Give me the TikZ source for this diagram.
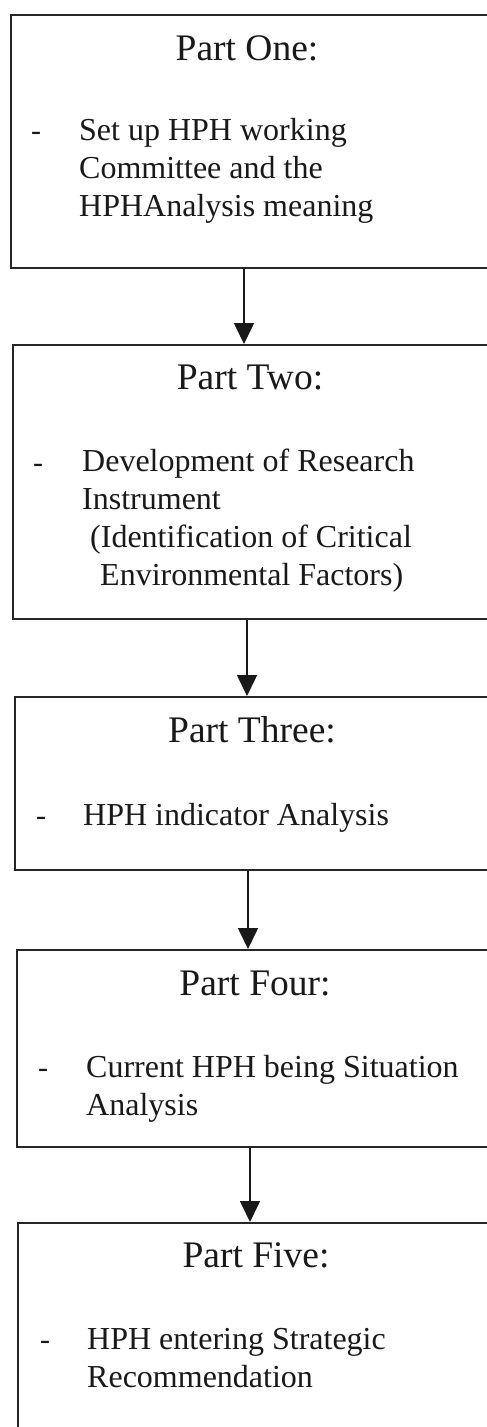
\documentclass[tikz,border=0pt]{standalone}
\usepackage{fontspec}
\setmainfont{Liberation Serif}
\usetikzlibrary{arrows.meta}
\begin{document}
\begin{tikzpicture}[x=1pt,y=-1pt,
  stagebox/.style={draw=black!85,line width=1.8pt,rectangle,inner sep=0pt,anchor=north west,minimum width=510pt},
  title/.style={anchor=base,inner sep=0pt,text=black!90,font=\fontsize{37.5}{45}\selectfont},
  body/.style={anchor=base west,inner sep=0pt,align=left,text=black!90,font=\fontsize{32}{37.7}\selectfont},
  bullet/.style={anchor=base west,inner sep=0pt,text=black!90,font=\fontsize{30}{36}\selectfont},
  arr/.style={line width=1.6pt,draw=black!90,-{Triangle[width=20pt,length=21pt]}}]
\useasboundingbox (0,0) rectangle (487,1427);
\clip (0,0) rectangle (487,1427);
\fill[white] (0,0) rectangle (487,1427);
% boxes
\node[stagebox,minimum height=253pt] (b1) at (10,14) {};
\node[stagebox,minimum height=274pt] (b2) at (12,344) {};
\node[stagebox,minimum height=173pt] (b3) at (14,696) {};
\node[stagebox,minimum height=197pt] (b4) at (16,949) {};
\node[stagebox,minimum height=260pt] (b5) at (17,1222) {};
% titles
\node[title] (t1) at (247,60) {Part One:};
\node[title] (t2) at (250,389) {Part Two:};
\node[title] (t3) at (252,742) {Part Three:};
\node[title] (t4) at (255,995) {Part Four:};
\node[title] (t5) at (256,1267) {Part Five:};
% bullets
\node[bullet] (d1) at (31,140) {-};
\node[bullet] (d2) at (33,472) {-};
\node[bullet] (d3) at (36,825) {-};
\node[bullet] (d4) at (38,1077) {-};
\node[bullet] (d5) at (40,1349) {-};
% body texts (base anchor = baseline of the last line)
\node[body] (x1) at (79,216) {Set up HPH working\\Committee and the\\HPHAnalysis meaning};
\node[body] (x2) at (82,585) {Development of Research\\Instrument\\\hspace*{8pt}(Identification of Critical\\\hspace*{18pt}Environmental Factors)};
\node[body] (x3) at (83,825) {HPH indicator Analysis};
\node[body] (x4) at (86,1115) {Current HPH being Situation\\Analysis};
\node[body] (x5) at (87,1387) {HPH entering Strategic\\Recommendation};
% arrow columns
\coordinate (a1) at (244,0);
\coordinate (a2) at (247,0);
\coordinate (a3) at (248,0);
\coordinate (a4) at (250,0);
\draw[arr] (b1.south -| a1) -- (b2.north -| a1);
\draw[arr] (b2.south -| a2) -- (b3.north -| a2);
\draw[arr] (b3.south -| a3) -- (b4.north -| a3);
\draw[arr] (b4.south -| a4) -- (b5.north -| a4);
\end{tikzpicture}
\end{document}
